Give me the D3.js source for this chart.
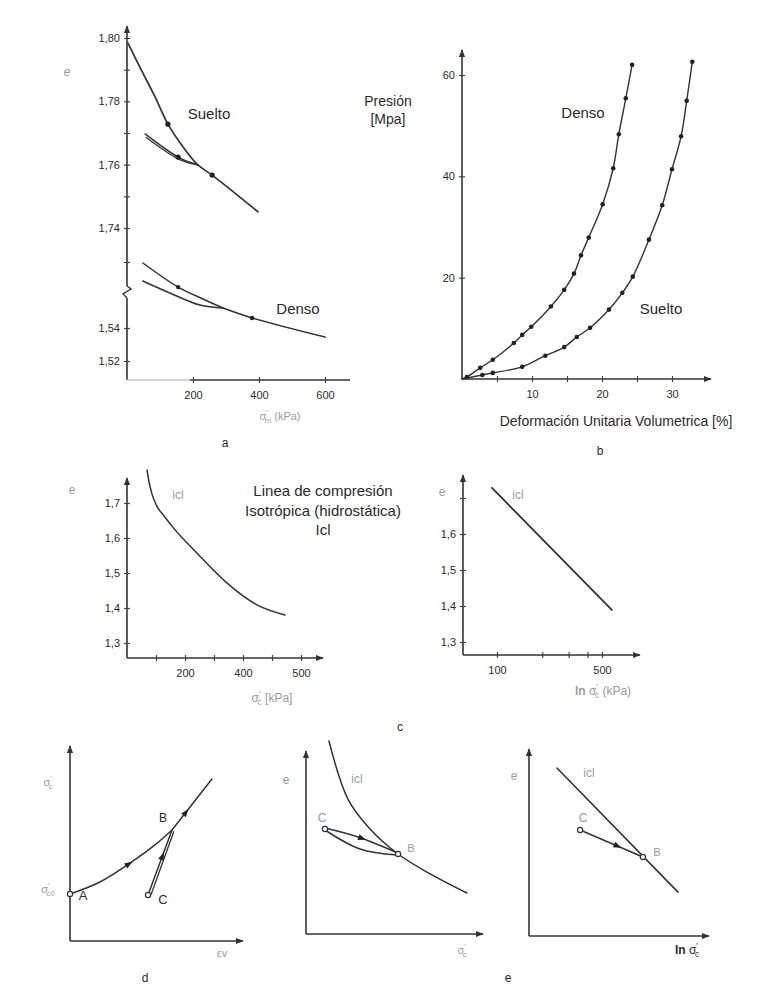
<!DOCTYPE html>
<meta charset="utf-8">
<head>
<style>
body { margin: 0; background: #fff; }
svg { display: block; }
text { font-family: "Liberation Sans", Arial, sans-serif; fill: #2a2a2a; }
.curve { fill: none; stroke: #333; stroke-linejoin: round; stroke-linecap: round; }
.faint { fill: #9a9a9a; }
</style>
<script src="https://d3js.org/d3.v7.min.js"></script>
</head>
<body>
<svg width="778" height="990"></svg>
<script>

// ---- panel a : e vs sigma'm (kPa), broken axis
var aSueltoLoad = [[3,1.7984],[39,1.7908],[85,1.7814],[124,1.7728],[170,1.7656],[215,1.7599],[258,1.7567],[397,1.7451]];
var aSueltoUnload1 = [[55,1.7697],[155,1.7624],[215,1.7599]];
var aSueltoUnload2 = [[58,1.7686],[160,1.7616],[215,1.7599]];
var aSueltoDots = [[124,1.7728],[155,1.7624],[258,1.7567]];
var aDensoUp = [[48,1.5794],[155,1.5648],[230,1.5576],[291,1.5521]];
var aDensoLow = [[48,1.5685],[130,1.5612],[221,1.5539],[291,1.5521]];
var aDensoMain = [[291,1.5521],[379,1.5461],[600,1.5345]];
var aDensoDots = [[155,1.5648],[379,1.5461]];
var aUpTicks = [1.74,1.75,1.76,1.77,1.78,1.79,1.80];
var aUpLabels = ["1,74","","1,76","","1,78","","1,80"];
var aLoTicks = [1.52,1.54,1.58];
var aLoLabels = ["1,52","1,54",""];
var aXTicks = [200,400,600];
var aXLabels = ["200","400","600"];

// ---- panel b : presion vs deformacion volumetrica
var bDenso = [[0,0],[0.7,0.4],[2.6,2.2],[4.4,3.8],[7.4,7.1],[8.6,8.7],[9.9,10.3],[12.7,14.3],[14.6,17.6],[16.0,20.8],[17.0,24.4],[18.1,27.9],[20.1,34.5],[21.6,41.6],[22.4,48.3],[23.4,55.4],[24.3,62.0]];
var bSuelto = [[0,0],[2.9,0.8],[4.4,1.2],[8.6,2.4],[11.9,4.6],[14.6,6.3],[16.4,8.3],[18.3,10.1],[21.0,13.7],[22.9,17.0],[24.4,20.2],[26.7,27.5],[28.6,34.3],[30.0,41.4],[31.3,47.9],[32.1,54.9],[32.9,62.6]];
var bXTicks = [5,10,15,20,25,30];
var bXLabels = ["","10","","20","","30"];
var bYTicks = [20,40,60];
var bYLabels = ["20","40","60"];

// ---- panel c : icl, linear and log
var cNCL = [[69,1.794],[76,1.760],[86,1.726],[103,1.691],[128,1.663],[155,1.634],[241,1.557],[345,1.471],[448,1.409],[545,1.38]];
var cXTicks = [100,200,300,400,500,600];
var cXLabels = ["","200","","400","","500"];
var cYTicks = [1.3,1.4,1.5,1.6,1.7];
var cYLabels = ["1,3","1,4","1,5","1,6","1,7"];
var cLogLine = [[92.6,1.728],[581,1.389]];
var cLogXTicks = [100,200,300,400,500];
var cLogXLabels = ["100","","","","500"];
var cLogYLabels = ["1,3","1,4","1,5","1,6",""];

// ---- panels d / e (schematic, unitless)
var dAB = [[0,2.46],[1.76,3.09],[3.53,4.08],[5.0,5.03],[6.0,5.81]];
var dBend = [[6.0,5.81],[8.35,8.48]];
var dCB1 = [[4.59,2.41],[6.0,5.81]];
var dCB2 = [[4.78,2.46],[6.1,5.72]];
var dPts = [["A",0,2.46],["B",6.0,5.81],["C",4.59,2.41]];
var eNCL = [[1.32,10.78],[2.41,7.54],[3.68,5.87],[5.29,4.47],[6.95,3.46],[9.25,2.29]];
var eUpper = [[1.09,5.92],[2.99,5.42],[5.29,4.52]];
var eLower = [[1.09,5.81],[3.10,4.75],[5.23,4.41]];
var ePts = [["C",1.09,5.87],["B",5.29,4.47]];
var fLine = [[1.57,9.18],[8.37,2.40]];
var fCB = [[2.87,5.79],[6.40,4.32]];
var fPts = [["C",2.87,5.79],["B",6.40,4.32]];

var svg = d3.select("svg");
var FONT = '"Liberation Sans", Arial, sans-serif';

svg.append("defs").append("marker")
    .attr("id", "arr")
    .attr("viewBox", "0 0 10 10")
    .attr("refX", 9).attr("refY", 5)
    .attr("markerWidth", 5).attr("markerHeight", 5)
    .attr("orient", "auto")
  .append("path").attr("d", "M0,1L10,5L0,9z").attr("fill", "#333");

function axisLine(x1, y1, x2, y2, arrow, color) {
  var l = svg.append("line")
    .attr("x1", x1).attr("y1", y1).attr("x2", x2).attr("y2", y2)
    .attr("stroke", color || "#333").attr("stroke-width", 1.6);
  if (arrow) l.attr("marker-end", "url(#arr)");
  return l;
}

function yAxis(scale, vals, labels, x, color) {
  var g = svg.append("g").attr("transform", "translate(" + x + ",0)")
    .call(d3.axisLeft(scale).tickValues(vals).tickFormat(function(d, i) { return labels[i]; })
      .tickSize(3).tickPadding(4));
  g.select(".domain").remove();
  g.selectAll(".tick line").attr("x1", 3).attr("x2", -3).attr("stroke", "#444").attr("stroke-width", 1.2);
  g.selectAll("text").attr("font-size", 11).attr("font-family", FONT).attr("fill", color || "#777");
  return g;
}

function xAxis(scale, vals, labels, y, color) {
  var g = svg.append("g").attr("transform", "translate(0," + y + ")")
    .call(d3.axisBottom(scale).tickValues(vals).tickFormat(function(d, i) { return labels[i]; })
      .tickSize(3).tickPadding(8));
  g.select(".domain").remove();
  g.selectAll(".tick line").attr("y1", -3).attr("y2", 3).attr("stroke", "#444").attr("stroke-width", 1.2);
  g.selectAll("text").attr("font-size", 11).attr("font-family", FONT).attr("fill", color || "#777");
  return g;
}

function curve(data, xs, ys, type, w) {
  var line = d3.line().x(function(d) { return xs(d[0]); }).y(function(d) { return ys(d[1]); })
    .curve(type || d3.curveLinear);
  return svg.append("path").datum(data).attr("class", "curve")
    .attr("d", line).attr("stroke-width", w || 1.5);
}

function dots(data, xs, ys, r) {
  svg.append("g").selectAll("circle").data(data).join("circle")
    .attr("cx", function(d) { return xs(d[0]); })
    .attr("cy", function(d) { return ys(d[1]); })
    .attr("r", r || 2.3).attr("fill", "#222");
}

function openPts(data, xs, ys) {
  svg.append("g").selectAll("circle").data(data).join("circle")
    .attr("cx", function(d) { return xs(d[1]); })
    .attr("cy", function(d) { return ys(d[2]); })
    .attr("r", 2.6).attr("fill", "#fff").attr("stroke", "#333").attr("stroke-width", 1.2);
}

// small filled arrow head sitting on a drawn path
function arrowOn(p, frac) {
  var node = p.node(), L = node.getTotalLength();
  var a = node.getPointAtLength(frac * L), b = node.getPointAtLength(Math.min(L, frac * L + 2));
  var ang = Math.atan2(b.y - a.y, b.x - a.x) * 180 / Math.PI;
  svg.append("path").attr("d", "M4,0L-4,-3L-4,3Z").attr("fill", "#222")
    .attr("transform", "translate(" + a.x + "," + a.y + ") rotate(" + ang + ")");
}

function label(x, y, txt, size, anchor, cls) {
  return svg.append("text").attr("x", x).attr("y", y)
    .attr("font-size", size || 14).attr("text-anchor", anchor || "middle")
    .attr("class", cls || null).text(txt);
}

// sigma' with sub/superscripts
function sigmaLabel(x, y, sub, after, size, cls, pre) {
  var t = svg.append("text").attr("x", x).attr("y", y).attr("font-size", size || 12)
    .attr("text-anchor", "middle").attr("class", cls || null);
  if (pre) t.append("tspan").attr("font-weight", "bold").text(pre);
  t.append("tspan").text("σ");
  t.append("tspan").attr("dy", -5).attr("font-size", (size || 12) * 0.7).text("′");
  t.append("tspan").attr("dx", -3).attr("dy", 8).attr("font-size", (size || 12) * 0.7).text(sub);
  if (after) t.append("tspan").attr("dy", -3).text(" " + after);
  return t;
}

// ================= panel a =================
var xa = d3.scaleLinear().domain([0, 600]).range([127, 325]);
var yaUp = d3.scaleLinear().domain([1.74, 1.80]).range([228, 38]);
var yaLo = d3.scaleLinear().domain([1.52, 1.58]).range([361, 262]);

axisLine(127, 380, 127, 298);
svg.append("path").attr("d", "M127,298L123,294L131,289L127,286").attr("fill", "none")
  .attr("stroke", "#333").attr("stroke-width", 1.4);
axisLine(127, 286, 127, 26, true);
axisLine(127, 380, 190, 380, false, "#c4c4c4");
axisLine(190, 380, 350, 380);
yAxis(yaUp, aUpTicks, aUpLabels, 127, "#888");
yAxis(yaLo, aLoTicks, aLoLabels, 127, "#9a9a9a");
xAxis(xa, aXTicks, aXLabels, 380, "#999");

curve(aSueltoLoad, xa, yaUp, d3.curveCatmullRom, 1.7);
curve(aSueltoUnload1, xa, yaUp, d3.curveCatmullRom, 1.5);
curve(aSueltoUnload2, xa, yaUp, d3.curveCatmullRom, 1.3);
dots(aSueltoDots, xa, yaUp, 2.6);
curve(aDensoUp, xa, yaLo, d3.curveCatmullRom, 1.5);
curve(aDensoLow, xa, yaLo, d3.curveCatmullRom, 1.5);
curve(aDensoMain, xa, yaLo, d3.curveCatmullRom, 1.6);
dots(aDensoDots, xa, yaLo, 2.2);

label(209, 119, "Suelto", 15);
label(298, 314, "Denso", 15);
label(67, 76, "e", 12, "middle", "faint").attr("font-style", "italic");
sigmaLabel(280, 420, "m", "(kPa)", 11, "faint");
label(225, 447, "a", 12);

// ================= panel b =================
var xb = d3.scaleLinear().domain([0, 35]).range([462, 707]);
var yb = d3.scaleLinear().domain([0, 60]).range([379, 75]);

axisLine(462, 379, 711, 379, true);
axisLine(462, 379, 462, 50, true);
xAxis(xb, bXTicks, bXLabels, 379, "#888");
yAxis(yb, bYTicks, bYLabels, 462, "#888");

curve(bDenso, xb, yb, d3.curveCatmullRom, 1.4);
curve(bSuelto, xb, yb, d3.curveCatmullRom, 1.4);
dots(bDenso.slice(1), xb, yb, 2.3);
dots(bSuelto.slice(1), xb, yb, 2.3);

label(388, 106, "Presión", 14);
label(388, 124, "[Mpa]", 14);
label(583, 118, "Denso", 15);
label(661, 314, "Suelto", 15);
label(616, 426, "Deformación Unitaria Volumetrica [%]", 14);
label(600, 455, "b", 12);

// ================= panel c (linear) =================
var xc = d3.scaleLinear().domain([0, 600]).range([127, 301]);
var yc = d3.scaleLinear().domain([1.3, 1.7]).range([643, 503]);

axisLine(127, 658, 323, 658, true);
axisLine(127, 658, 127, 478, true);
xAxis(xc, cXTicks, cXLabels, 658, "#888");
yAxis(yc, cYTicks, cYLabels, 127, "#888");
curve(cNCL, xc, yc, d3.curveMonotoneX, 1.5);
label(178, 499, "icl", 12, "middle", "faint");
label(72, 494, "e", 12, "middle", "faint");
sigmaLabel(272, 702, "c", "[kPa]", 12, "faint");

label(323, 496, "Linea de compresión", 15);
label(323, 516, "Isotrópica (hidrostática)", 15);
label(323, 535, "Icl", 15);

// ================= panel c (log) =================
var xcl = d3.scaleLog().domain([100, 500]).range([497, 602]);
var ycl = d3.scaleLinear().domain([1.3, 1.7]).range([642, 498]);

axisLine(463, 655, 640, 655, true);
axisLine(463, 655, 463, 475, true);
xAxis(xcl, cLogXTicks, cLogXLabels, 655, "#888");
yAxis(ycl, cYTicks, cLogYLabels, 463, "#888");
curve(cLogLine, xcl, ycl, d3.curveLinear, 1.8);
label(518, 499, "icl", 12, "middle", "faint");
label(442, 496, "e", 12, "middle", "faint");
sigmaLabel(603, 695, "c", "(kPa)", 12, "faint", "ln ");
label(400, 731, "c", 12);

// ================= panel d =================
var dx = d3.scaleLinear().domain([0, 10]).range([70, 240]);
var dy = d3.scaleLinear().domain([0, 10]).range([941, 750]);

axisLine(70, 941, 243, 941, true);
axisLine(70, 941, 70, 746, true);
var pAB = curve(dAB, dx, dy, d3.curveCatmullRom, 1.5);
var pBend = curve(dBend, dx, dy, d3.curveLinear, 1.5);
var pCB1 = curve(dCB1, dx, dy, d3.curveLinear, 1.5);
curve(dCB2, dx, dy, d3.curveLinear, 1.3);
arrowOn(pAB, 0.55);
arrowOn(pBend, 0.35);
arrowOn(pCB1, 0.6);
openPts(dPts.filter(function(d) { return d[0] != "B"; }), dx, dy);
label(83, 900, "A", 13);
label(163, 822, "B", 12);
label(163, 904, "C", 13);
sigmaLabel(48, 786, "c", null, 11, "faint");
sigmaLabel(48, 893, "c0", null, 11, "faint");
label(222, 957, "εv", 11, "middle", "faint");
label(145, 982, "d", 12);

// ================= panel e (e - sigma) =================
var ex = d3.scaleLinear().domain([0, 10]).range([306, 480]);
var ey = d3.scaleLinear().domain([0, 10]).range([934, 755]);

axisLine(306, 934, 483, 934, true);
axisLine(306, 934, 306, 751, true);
curve(eNCL, ex, ey, d3.curveCatmullRom, 1.5);
var pUp = curve(eUpper, ex, ey, d3.curveCatmullRom, 1.5);
curve(eLower, ex, ey, d3.curveCatmullRom, 1.5);
arrowOn(pUp, 0.5);
openPts(ePts, ex, ey);
label(357, 783, "icl", 12, "middle", "faint");
label(322, 822, "C", 12, "middle", "faint");
label(411, 852, "B", 11, "middle", "faint");
label(286, 784, "e", 12, "middle", "faint");
sigmaLabel(462, 954, "c", null, 11, "faint");

// ================= panel e (e - ln sigma) =================
var fx = d3.scaleLinear().domain([0, 10]).range([529, 707]);
var fy = d3.scaleLinear().domain([0, 10]).range([936, 753]);

axisLine(529, 936, 709, 936, true);
axisLine(529, 936, 529, 749, true);
curve(fLine, fx, fy, d3.curveLinear, 1.6);
var pCB = curve(fCB, fx, fy, d3.curveLinear, 1.5);
arrowOn(pCB, 0.6);
openPts(fPts, fx, fy);
label(589, 777, "icl", 12, "middle", "faint");
label(583, 822, "C", 12, "middle", "faint");
label(657, 856, "B", 11, "middle", "faint");
label(514, 780, "e", 12, "middle", "faint");
sigmaLabel(687, 954, "c", null, 12, null, "ln ");
label(508, 982, "e", 12);

</script>
</body>
